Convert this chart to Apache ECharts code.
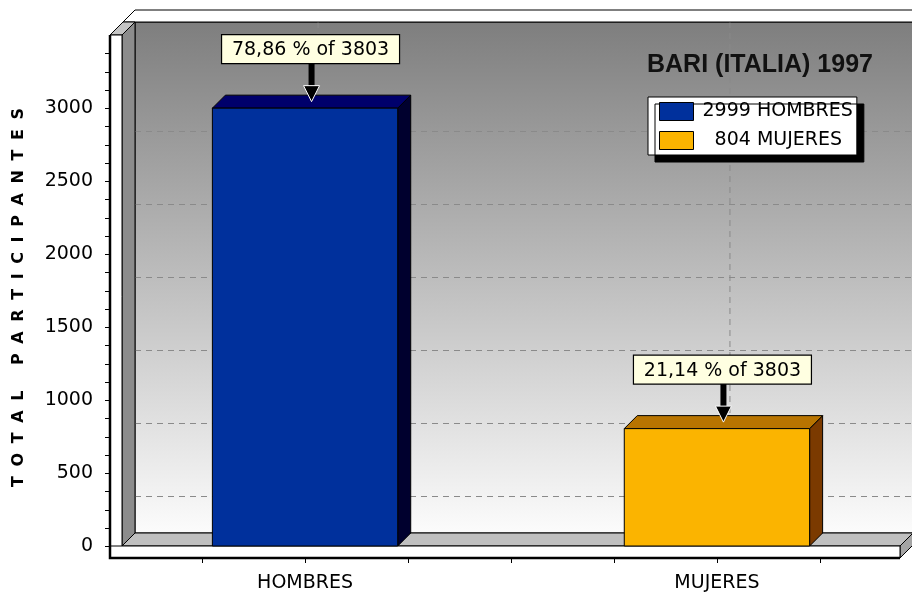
<!DOCTYPE html>
<html><head><meta charset="utf-8">
<script src="https://cdn.jsdelivr.net/npm/echarts@6/dist/echarts.min.js"></script>
<style>html,body{margin:0;padding:0;background:#fff}#c{width:912px;height:595px}</style>
</head><body><div id="c"></div>
<script>
// ---- data ----
const categories = ['HOMBRES', 'MUJERES'];
const values = [2999, 804];
const yMin = 0, yMax = 3500, yInterval = 500, yMinorSplit = 4;
const backGridValues = [250, 750, 1250, 1750, 2250, 2750];
const xTickValues = [-0.25, 0, 0.25, 0.5, 0.75, 1, 1.25];
const chartTitle = 'BARI (ITALIA) 1997';
const axisTitle = 'TOTAL PARTICIPANTES';

// ---- style constants ----
const D = 13;      // 3D depth offset (px)
const S = 12;      // slab thickness (px)
const TICK = 4;
const BAR_W = 0.45;
const X_MIN = -4 / 9, X_MAX = 13 / 9;
const FONT = 'DejaVu Sans';
const palette = {
  HOMBRES: { front: '#00309c', top: '#00006b', side: '#00002e' },
  MUJERES: { front: '#fbb400', top: '#b87400', side: '#7b3a00' }
};
const total = values.reduce((a, b) => a + b, 0);

function pctText(v) {
  return (v / total * 100).toFixed(2).replace('.', ',') + ' % of ' + total;
}

function backRender(params, api) {
  const bl = api.coord([X_MIN, yMin]), tr = api.coord([X_MAX, yMax]);
  const L = bl[0], B = bl[1], R = tr[0], T = tr[1];
  const children = [{
    type: 'rect',
    shape: { x: L + D, y: T - D, width: R - L + 20, height: B - T },
    style: {
      fill: new echarts.graphic.LinearGradient(0, 0, 0, 1, [
        { offset: 0, color: '#7e7e7e' }, { offset: 1, color: '#fcfcfc' }]),
      stroke: '#000', lineWidth: 1
    }
  }];
  const dash = { stroke: '#8a8a8a', lineWidth: 1, lineDash: [6, 5] };
  backGridValues.forEach(v => {
    const y = api.coord([0, v])[1] - D;
    children.push({ type: 'line', shape: { x1: L + D, y1: y, x2: R + D + 20, y2: y }, style: dash });
  });
  categories.forEach((c, i) => {
    const x = api.coord([i, 0])[0] + D;
    children.push({ type: 'line', shape: { x1: x, y1: T - D, x2: x, y2: B - D }, style: dash });
  });
  return { type: 'group', children };
}

function frameRender(params, api) {
  const bl = api.coord([X_MIN, yMin]), tr = api.coord([X_MAX, yMax]);
  const L = bl[0], B = bl[1], R = tr[0], T = tr[1];
  const st = (fill) => ({ fill, stroke: '#000', lineWidth: 1 });
  const children = [
    { type: 'polygon', shape: { points: [[L - S + D, T - D], [L + D, T - D - S], [R + D + 40, T - D - S], [R + D + 40, T - D]] }, style: st('#ffffff') },
    { type: 'polygon', shape: { points: [[L, T], [L + D, T - D], [L + D, B - D], [L, B]] }, style: st('#8c8c8c') },
    { type: 'polygon', shape: { points: [[L, B], [L + D, B - D], [R + D, B - D], [R, B]] }, style: st('#c0c0c0') },
    { type: 'polygon', shape: { points: [[R, B], [R + D, B - D], [R + D, B - D + S], [R, B + S]] }, style: st('#a4a4a4') },
    { type: 'polygon', shape: { points: [[L - S, T], [L, T], [L + D, T - D], [L - S + D, T - D]] }, style: st('#c4c4c4') },
    { type: 'rect', shape: { x: L - S, y: T, width: S, height: B + S - T }, style: st('#ffffff') },
    { type: 'rect', shape: { x: L - S, y: B, width: R - L + S, height: S }, style: st('#ffffff') },
    { type: 'polyline', shape: { points: [[L - S, T], [L - S, B + S], [R, B + S]] }, style: { stroke: '#000', lineWidth: 2.5, fill: null } }
  ];
  // y-axis ticks (major + minor) through the y scale
  const step = yInterval / yMinorSplit;
  for (let v = yMin; v < yMax; v += step) {
    const y = Math.round(api.coord([0, v])[1]) + 0.5;
    children.push({ type: 'line', shape: { x1: L - S - 1 - TICK, y1: y, x2: L - S, y2: y }, style: { stroke: '#000', lineWidth: 1 } });
  }
  // x-axis ticks
  xTickValues.forEach(xv => {
    const x = Math.round(api.coord([xv, 0])[0]) + 0.5;
    children.push({ type: 'line', shape: { x1: x, y1: B + S, x2: x, y2: B + S + 1 + TICK }, style: { stroke: '#000', lineWidth: 1 } });
  });
  return { type: 'group', children };
}

function barRender(params, api) {
  const xi = api.value(0), v = api.value(1);
  const b = api.coord([xi, 0]), t = api.coord([xi, v]);
  const w = api.size([BAR_W, 0])[0];
  const x0 = b[0] - w / 2, x1 = b[0] + w / 2, yt = t[1], yb = b[1];
  const c = palette[params.seriesName];
  const tipX = b[0] + D / 2, tipY = yt - D / 2;
  const boxW = 178, boxH = 29, gap = 38;
  const boxBottom = tipY - gap;
  return {
    type: 'group', children: [
      { type: 'polygon', shape: { points: [[x1, yt], [x1 + D, yt - D], [x1 + D, yb - D], [x1, yb]] }, style: { fill: c.side, stroke: '#000', lineWidth: 1 } },
      { type: 'polygon', shape: { points: [[x0, yt], [x0 + D, yt - D], [x1 + D, yt - D], [x1, yt]] }, style: { fill: c.top, stroke: '#000', lineWidth: 1 } },
      { type: 'rect', shape: { x: x0, y: yt, width: w, height: yb - yt }, style: { fill: c.front, stroke: '#000', lineWidth: 1 } },
      { type: 'rect', shape: { x: tipX - 3, y: boxBottom, width: 6, height: gap - 14 }, style: { fill: '#000' } },
      { type: 'polygon', shape: { points: [[tipX - 8, tipY - 16], [tipX + 8, tipY - 16], [tipX, tipY]] }, style: { fill: '#000', stroke: '#fff', lineWidth: 1 } },
      { type: 'rect', shape: { x: tipX - 1 - boxW / 2, y: boxBottom - boxH, width: boxW, height: boxH }, style: { fill: '#ffffe1', stroke: '#000', lineWidth: 1.2 } },
      { type: 'text', style: { text: pctText(v), x: tipX - 1, y: boxBottom - boxH / 2 + 1, align: 'center', verticalAlign: 'middle', font: '19px "' + FONT + '"', fill: '#000' } }
    ]
  };
}

const chart = echarts.init(document.getElementById('c'), null, { renderer: 'canvas' });
const barSeries = categories.map((name, i) => ({
  name, type: 'custom', z: 5, renderItem: barRender,
  itemStyle: { color: palette[name].front },
  data: [[i, values[i]]]
}));

chart.setOption({
  animation: false,
  textStyle: { fontFamily: FONT },
  title: {
    text: chartTitle, left: 647, top: 53, padding: 0,
    textStyle: { fontFamily: 'Liberation Sans', fontWeight: 'bold', fontSize: 25, color: '#111' }
  },
  legend: {
    data: categories, orient: 'vertical', left: 648, top: 97,
    padding: [5, 4, 5, 11], itemGap: 10, itemWidth: 34, itemHeight: 18,
    backgroundColor: '#fff', borderColor: '#000', borderWidth: 1,
    shadowColor: '#000', shadowBlur: 0, shadowOffsetX: 7, shadowOffsetY: 7,
    icon: 'rect', itemStyle: { borderColor: '#000', borderWidth: 1 },
    textStyle: { fontFamily: FONT, fontSize: 19, color: '#000', padding: [0, 0, 0, 4] },
    formatter: name => {
      const v = String(values[categories.indexOf(name)]);
      return '\u2007'.repeat(Math.max(0, 4 - v.length)) + v + ' ' + name;
    },
    selectedMode: false, z: 10
  },
  grid: { left: 122, right: 12, top: 35, bottom: 49, show: false },
  xAxis: {
    type: 'value', min: X_MIN, max: X_MAX, offset: S,
    axisLine: { show: false }, splitLine: { show: false }, axisTick: { show: false },
    axisLabel: {
      customValues: [0, 1], margin: 16, fontSize: 19, color: '#000', fontFamily: FONT,
      formatter: v => categories[Math.round(v)] || ''
    }
  },
  yAxis: {
    type: 'value', min: yMin, max: yMax, interval: yInterval, offset: S,
    name: axisTitle.split(' ').map(w => w.split('').join('\u2002\u200A')).join('\u2002\u2002\u2002\u200A'),
    nameLocation: 'middle', nameRotate: 90, nameGap: 83,
    nameTextStyle: { fontFamily: FONT, fontWeight: 'bold', fontSize: 16, color: '#000', padding: [0, 14, 0, 0] },
    axisLine: { show: false }, splitLine: { show: false }, axisTick: { show: false },
    axisLabel: { showMaxLabel: false, margin: 17, fontSize: 19, color: '#000', fontFamily: FONT, formatter: v => String(v) }
  },
  series: [
    { name: 'back', type: 'custom', z: 1, silent: true, renderItem: backRender, data: [[0, 0]] },
    { name: 'frame', type: 'custom', z: 2, silent: true, renderItem: frameRender, data: [[0, 0]] }
  ].concat(barSeries)
});
</script></body></html>
